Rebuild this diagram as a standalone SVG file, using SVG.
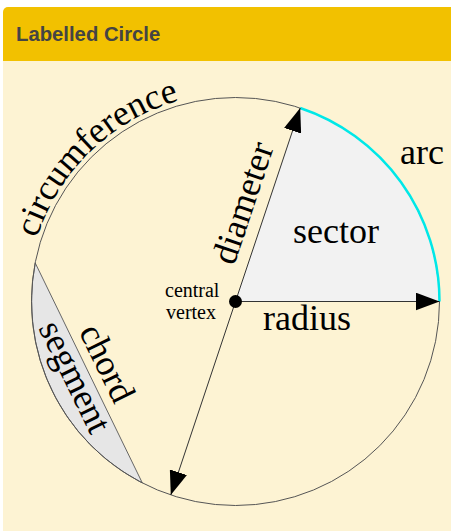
<svg xmlns="http://www.w3.org/2000/svg" width="451" height="531" viewBox="0 0 451 531">
  <style>
    .lbl { font-family: "Liberation Serif", "Times New Roman", serif; font-size: 36px; fill: #000; }
    .small { font-family: "Liberation Serif", "Times New Roman", serif; font-size: 20px; fill: #000; }
    .title { font-family: "Liberation Sans", Arial, sans-serif; font-size: 20.3px; font-weight: bold; fill: #444; }
    .ln { stroke: #333; stroke-width: 1; fill: none; }
  </style>
  <defs>
    <marker id="arrow" markerUnits="userSpaceOnUse" markerWidth="24" markerHeight="18" refX="24" refY="9" orient="auto-start-reverse" viewBox="0 0 24 18">
      <path d="M0,0 L24,9 L0,18 Z" fill="#000"/>
    </marker>
    <path id="circPath" d="M 33.2,352.1 A 209 209 0 0 1 293.1,100.6"/>
  </defs>

  <g id="panel">
    <rect x="3" y="7" width="470" height="540" rx="5" fill="#F2C100"/>
    <rect x="3" y="61" width="470" height="480" fill="#FDF3D3"/>
    <text class="title" x="16" y="41">Labelled Circle</text>
  </g>

  <g id="sector">
    <path d="M 235.5,301.5 L 439.5,301.5 A 204 204 0 0 0 300.2,108 Z" fill="#F2F2F2"/>
  </g>
  <g id="segment">
    <path d="M 35.2,262.9 A 204 204 0 0 0 142.3,482.9 Z" fill="#E6E6E6" stroke="#666" stroke-width="1"/>
  </g>
  <g id="circle">
    <circle cx="235.5" cy="301.5" r="204" fill="none" stroke="#555" stroke-width="1"/>
  </g>
  <g id="arc">
    <path d="M 300.2,108 A 204 204 0 0 1 439.5,301.5" fill="none" stroke="#00E8E8" stroke-width="2.5"/>
  </g>

  <g id="connectors">
    <line class="ln" x1="235.5" y1="301.5" x2="439.5" y2="301.5" marker-end="url(#arrow)"/>
    <line class="ln" x1="170.8" y1="495" x2="300.2" y2="108" marker-start="url(#arrow)" marker-end="url(#arrow)"/>
  </g>

  <g id="vertex">
    <circle cx="235.5" cy="301.5" r="6.5" fill="#000"/>
    <text class="small" x="165" y="296.5">central</text>
    <text class="small" x="166" y="318.5">vertex</text>
  </g>

  <g id="labels">
    <text class="lbl"><textPath href="#circPath" startOffset="50%" text-anchor="middle">circumference</textPath></text>
    <text class="lbl" x="400" y="164">arc</text>
    <text class="lbl" x="293" y="243">sector</text>
    <text class="lbl" x="263" y="330">radius</text>
    <text class="lbl" text-anchor="middle" transform="translate(254,206.6) rotate(-71.5)">diameter</text>
    <text class="lbl" text-anchor="middle" transform="translate(96.6,368.4) rotate(63.9)">chord</text>
    <text class="lbl" text-anchor="middle" transform="translate(64.5,381.9) rotate(63.9)">segment</text>
  </g>
</svg>
